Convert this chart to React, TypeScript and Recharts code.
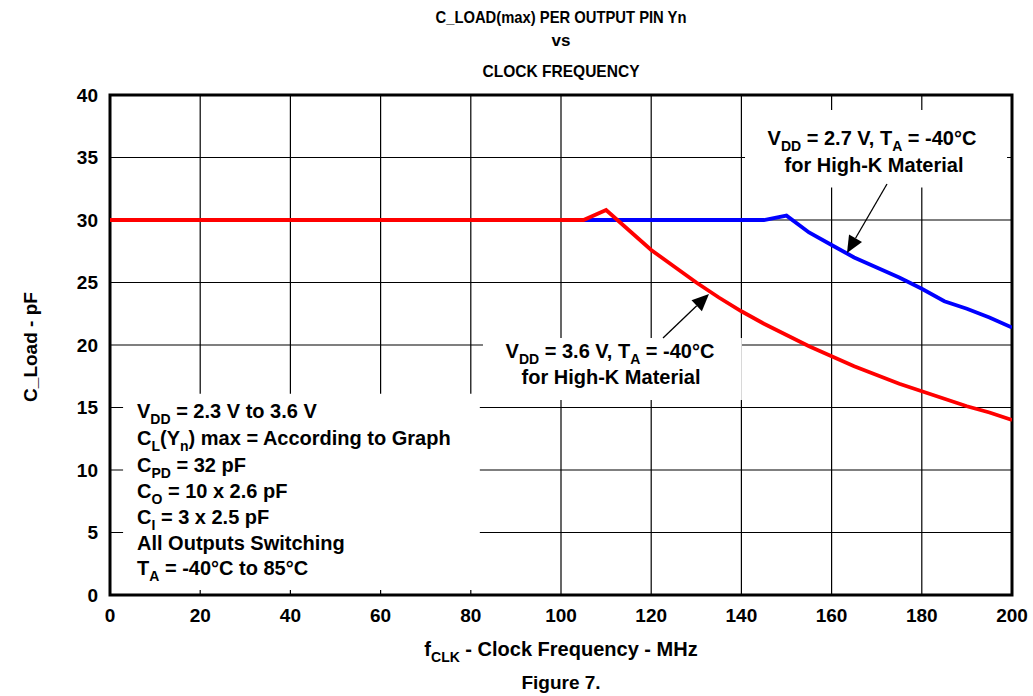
import React from "react";
import { LineChart, Line, XAxis, YAxis, CartesianGrid, ReferenceArea } from "recharts";

const xTicks = [0, 20, 40, 60, 80, 100, 120, 140, 160, 180, 200];
const yTicks = [0, 5, 10, 15, 20, 25, 30, 35, 40];

const redFreq = [0, 105, 110, 115, 120, 125, 130, 135, 140, 145, 150, 155, 160, 165, 170, 175, 180, 185, 190, 195, 200];
const redLoad = [30, 30, 30.8, 29.2, 27.6, 26.3, 25.0, 23.8, 22.7, 21.7, 20.8, 19.9, 19.1, 18.3, 17.6, 16.9, 16.3, 15.7, 15.1, 14.6, 14.0];
const blueFreq = [0, 145, 150, 155, 160, 165, 170, 175, 180, 185, 190, 195, 200];
const blueLoad = [30, 30, 30.35, 29.0, 28.0, 27.0, 26.2, 25.4, 24.5, 23.5, 22.9, 22.2, 21.4];

const redData = redFreq.map((f, i) => ({ f, v: redLoad[i] }));
const blueData = blueFreq.map((f, i) => ({ f, v: blueLoad[i] }));

const FONT = "'Liberation Sans', Arial, sans-serif";

type Part = [string, boolean?];

function RichText({ x, y, parts, size, anchor = "start", textLength }: { x: number; y: number; parts: Part[]; size: number; anchor?: string; textLength?: number }) {
  const subSize = Math.round(size * 0.72);
  const shift = Math.round(size * 0.3);
  let cur = 0;
  const extra: any = textLength ? { textLength, lengthAdjust: "spacingAndGlyphs" } : {};
  return (
    <text x={x} y={y} fontFamily={FONT} fontWeight="bold" fontSize={size} fill="#000" textAnchor={anchor as any} {...extra}>
      {parts.map(([t, sub], i) => {
        const target = sub ? shift : 0;
        const dy = target - cur;
        cur = target;
        return (
          <tspan key={i} dy={dy} fontSize={sub ? subSize : size}>
            {t}
          </tspan>
        );
      })}
    </text>
  );
}

function Arrow({ x1, y1, x2, y2 }: { x1: number; y1: number; x2: number; y2: number }) {
  const dx = x2 - x1;
  const dy = y2 - y1;
  const len = Math.hypot(dx, dy);
  const ux = dx / len;
  const uy = dy / len;
  const hl = 17;
  const hw = 7.5;
  const bx = x2 - ux * hl;
  const by = y2 - uy * hl;
  const pts = `${x2},${y2} ${bx - uy * hw},${by + ux * hw} ${bx + uy * hw},${by - ux * hw}`;
  return (
    <g>
      <line x1={x1} y1={y1} x2={bx} y2={by} stroke="#000" strokeWidth={1.3} />
      <polygon points={pts} fill="#000" />
    </g>
  );
}

export default function App() {
  const tickStyle = { fontFamily: FONT, fontWeight: "bold", fontSize: 19, fill: "#000" } as any;
  return (
    <div style={{ position: "absolute", left: 0, top: 0, width: 1033, height: 696, overflow: "hidden", background: "#fff" }}>
      <LineChart width={1033} height={696} data={redData} margin={{ top: 95, right: 21, left: 50, bottom: 71 }}>
        <CartesianGrid stroke="#000" strokeWidth={1.2} horizontal vertical />
        <XAxis
          dataKey="f"
          type="number"
          domain={[0, 200]}
          ticks={xTicks}
          tickLine={false}
          axisLine={false}
          tick={tickStyle}
          tickMargin={8}
          height={30}
          allowDataOverflow
        />
        <YAxis
          type="number"
          domain={[0, 40]}
          ticks={yTicks}
          tickLine={false}
          axisLine={false}
          tick={tickStyle}
          tickMargin={6}
          width={60}
          allowDataOverflow
        />
        <ReferenceArea x1={2.9} x2={82} y1={0.4} y2={16.1} fill="#fff" fillOpacity={1} stroke="none" />
        <ReferenceArea x1={82.7} x2={140.1} y1={15.6} y2={20.56} fill="#fff" fillOpacity={1} stroke="none" />
        <ReferenceArea x1={140.8} x2={198.9} y1={32.6} y2={38.8} fill="#fff" fillOpacity={1} stroke="none" />
        <Line data={blueData} dataKey="v" type="linear" stroke="#0000ff" strokeWidth={3.8} dot={false} isAnimationActive={false} />
        <Line data={redData} dataKey="v" type="linear" stroke="#ff0000" strokeWidth={3.8} dot={false} isAnimationActive={false} />
        <ReferenceArea x1={0} x2={200} y1={0} y2={40} fill="none" stroke="#000" strokeWidth={3} />
      </LineChart>
      <svg width={1033} height={696} style={{ position: "absolute", left: 0, top: 0, pointerEvents: "none" }}>
        <RichText x={561} y={23} size={17} anchor="middle" textLength={251} parts={[["C_LOAD(max) PER OUTPUT PIN Yn"]]} />
        <RichText x={561} y={46} size={17} anchor="middle" parts={[["vs"]]} />
        <RichText x={561} y={77} size={17} anchor="middle" textLength={157} parts={[["CLOCK FREQUENCY"]]} />

        <text
          x={0}
          y={0}
          transform="translate(37,347) rotate(-90)"
          fontFamily={FONT}
          fontWeight="bold"
          fontSize={19}
          textAnchor="middle"
          fill="#000"
        >
          C_Load - pF
        </text>

        <RichText x={561} y={656} size={20} anchor="middle" parts={[["f"], ["CLK", true], [" - Clock Frequency - MHz"]]} />
        <RichText x={561} y={689} size={19} anchor="middle" parts={[["Figure 7."]]} />

        <RichText x={137} y={418} size={20} parts={[["V"], ["DD", true], [" = 2.3 V to 3.6 V"]]} />
        <RichText x={137} y={445} size={20} parts={[["C"], ["L", true], ["(Y"], ["n", true], [") max = According to Graph"]]} />
        <RichText x={137} y={472} size={20} parts={[["C"], ["PD", true], [" = 32 pF"]]} />
        <RichText x={137} y={498} size={20} parts={[["C"], ["O", true], [" = 10 x 2.6 pF"]]} />
        <RichText x={137} y={524} size={20} parts={[["C"], ["I", true], [" = 3 x 2.5 pF"]]} />
        <RichText x={137} y={550} size={20} parts={[["All Outputs Switching"]]} />
        <RichText x={137} y={575} size={20} parts={[["T"], ["A", true], [" = -40°C to 85°C"]]} />

        <RichText x={610} y={358} size={20} anchor="middle" parts={[["V"], ["DD", true], [" = 3.6 V, T"], ["A", true], [" = -40°C"]]} />
        <RichText x={611} y={384} size={20} anchor="middle" parts={[["for High-K Material"]]} />

        <RichText x={872} y={145} size={20} anchor="middle" parts={[["V"], ["DD", true], [" = 2.7 V, T"], ["A", true], [" = -40°C"]]} />
        <RichText x={874} y={172} size={20} anchor="middle" parts={[["for High-K Material"]]} />

        <Arrow x1={887} y1={184} x2={847} y2={253} />
        <Arrow x1={663} y1={338} x2={709} y2={294} />
      </svg>
    </div>
  );
}
